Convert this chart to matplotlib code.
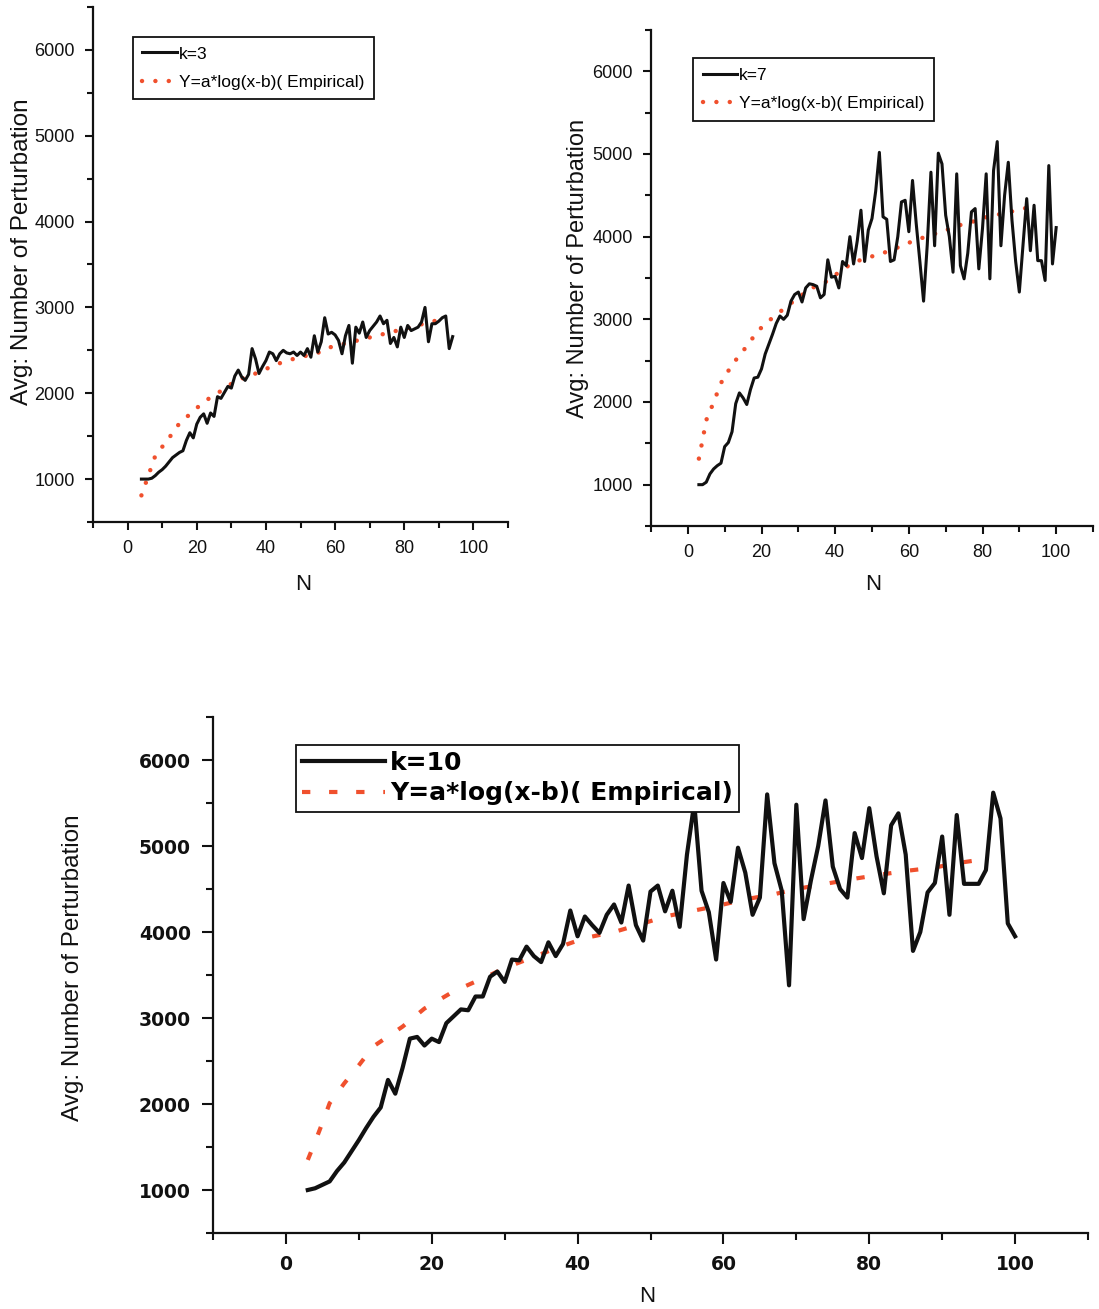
import matplotlib

matplotlib.use("Agg")
import matplotlib.pyplot as plt  # noqa: E402
from matplotlib.ticker import MultipleLocator  # noqa: E402

W, H = 1099, 1309

# ---- k = 3 -------------------------------------------------------------
k3_n = list(range(4, 95))
k3_avg = [
    1000, 1000, 1000, 1010, 1040, 1080, 1110, 1150, 1200, 1250,
    1280, 1310, 1330, 1450, 1540, 1480, 1640, 1720, 1760, 1650,
    1770, 1730, 1960, 1940, 2010, 2080, 2060, 2200, 2270, 2190,
    2150, 2220, 2520, 2400, 2230, 2310, 2380, 2480, 2460, 2380,
    2460, 2500, 2470, 2460, 2480, 2440, 2480, 2440, 2520, 2420,
    2670, 2480, 2600, 2880, 2690, 2710, 2680, 2615, 2460, 2670,
    2790, 2350, 2770, 2700, 2830, 2650, 2730, 2780, 2830, 2900,
    2810, 2850, 2580, 2650, 2540, 2770, 2650, 2790, 2730, 2750,
    2770, 2830, 3000, 2600, 2810, 2810, 2840, 2880, 2900, 2520,
    2660,
]
fit3_n = [4, 6, 8, 12, 15, 19, 22, 26, 30, 33, 37, 41, 44, 47, 51, 55,
          58, 62, 66, 70, 73, 76, 80, 84, 87, 90]
fit3_v = [810, 1040, 1270, 1480, 1650, 1790, 1900, 2000, 2110, 2170, 2230,
          2300, 2350, 2390, 2430, 2470, 2530, 2570, 2610, 2650, 2680, 2710,
          2750, 2790, 2830, 2850]

# ---- k = 7 -------------------------------------------------------------
k7_n = list(range(3, 101))
k7_avg = [
    1000, 1000, 1030, 1130, 1190, 1230, 1260, 1460, 1510, 1640,
    1980, 2110, 2050, 1970, 2150, 2290, 2300, 2400, 2580, 2700,
    2820, 2950, 3040, 3000, 3050, 3220, 3300, 3330, 3210, 3380,
    3430, 3420, 3400, 3260, 3300, 3720, 3510, 3520, 3380, 3700,
    3650, 4000, 3670, 3950, 4320, 3700, 4080, 4220, 4550, 5020,
    4240, 4210, 3700, 3720, 4000, 4420, 4440, 4060, 4680, 4160,
    3700, 3220, 3900, 4780, 3890, 5010, 4880, 4260, 4000, 3570,
    4760, 3650, 3490, 3800, 4300, 4340, 3610, 4100, 4760, 3490,
    4800, 5150, 3890, 4500, 4900, 4200, 3700, 3330, 3900, 4460,
    3830, 4380, 3710, 3710, 3470, 4860, 3670, 4110,
]
fit7_n = [3, 4, 5, 7, 9, 12, 16, 19, 23, 27, 30, 34, 38, 41, 45, 52, 55,
          59, 63, 66, 70, 73, 77, 80, 84, 88, 91, 95]
fit7_v = [1315, 1540, 1780, 1995, 2230, 2450, 2675, 2860, 3020, 3160, 3265,
          3385, 3465, 3570, 3690, 3790, 3830, 3910, 3975, 4020, 4075, 4130,
          4175, 4225, 4265, 4305, 4340, 4365]

# ---- k = 10 ------------------------------------------------------------
k10_n = list(range(3, 101))
k10_avg = [
    1000, 1020, 1060, 1100, 1220, 1320, 1450, 1580, 1720, 1850,
    1960, 2280, 2120, 2420, 2760, 2780, 2680, 2760, 2720, 2940,
    3020, 3100, 3090, 3250, 3250, 3480, 3540, 3420, 3680, 3670,
    3830, 3720, 3650, 3880, 3720, 3860, 4250, 3950, 4180, 4080,
    3990, 4200, 4320, 4110, 4540, 4080, 3900, 4470, 4540, 4240,
    4480, 4060, 4900, 5500, 4480, 4230, 3680, 4570, 4350, 4980,
    4690, 4200, 4400, 5600, 4800, 4480, 3380, 5480, 4150, 4600,
    5000, 5530, 4760, 4500, 4400, 5150, 4860, 5440, 4880, 4450,
    5240, 5380, 4900, 3780, 4000, 4460, 4570, 5110, 4200, 5360,
    4560, 4560, 4560, 4720, 5620, 5320, 4100, 3950,
]
fit10_n = [3, 4, 5, 6, 8, 10, 12, 16, 19, 23, 27, 30, 34, 37, 41, 45, 49,
           52, 56, 59, 63, 67, 70, 74, 78, 81, 85, 89, 92, 96]
fit10_v = [1350, 1560, 1780, 2010, 2240, 2450, 2670, 2900, 3110, 3310, 3460,
           3580, 3710, 3810, 3930, 4000, 4100, 4180, 4250, 4300, 4380, 4440,
           4500, 4560, 4620, 4660, 4710, 4750, 4800, 4850]

NARROW = ["Liberation Sans Narrow", "Liberation Sans", "DejaVu Sans"]
ARIAL = ["Liberation Sans", "DejaVu Sans"]
WIDE = ["DejaVu Sans"]
RED = "#f0502d"
INK = "#111111"
FIT_LABEL = "Y=a*log(x-b)( Empirical)"
YLABEL = "Avg: Number of Perturbation"


def px_rect(left, top, right, bottom):
    """Converte caixa em pixels (origem no topo) para coordenadas de figura."""
    return [left / W, 1 - bottom / H, (right - left) / W, (bottom - top) / H]


def style_axes(ax, family, size, weight, major_len, minor_len, pad):
    ax.set_xlim(-10, 110)
    ax.set_ylim(500, 6500)
    for side in ("top", "right"):
        ax.spines[side].set_visible(False)
    for side in ("left", "bottom"):
        ax.spines[side].set_linewidth(1.6)
        ax.spines[side].set_color(INK)
    ax.xaxis.set_major_locator(MultipleLocator(20))
    ax.xaxis.set_minor_locator(MultipleLocator(10))
    ax.yaxis.set_major_locator(MultipleLocator(1000))
    ax.yaxis.set_minor_locator(MultipleLocator(500))
    ax.tick_params(which="major", direction="out", length=major_len,
                   width=1.5, color=INK, pad=pad)
    ax.tick_params(which="minor", direction="out", length=minor_len,
                   width=1.5, color=INK)
    for lab in ax.get_xticklabels() + ax.get_yticklabels():
        lab.set_family(family)
        lab.set_fontsize(size)
        lab.set_fontweight(weight)
        lab.set_color(INK)


def small_legend(ax, anchor):
    leg = ax.legend(loc="upper left", bbox_to_anchor=anchor,
                    borderaxespad=0, prop={"family": NARROW, "size": 12.5},
                    handlelength=2.0, handletextpad=0.1, labelspacing=0.75,
                    borderpad=0.55, fancybox=False, framealpha=1,
                    edgecolor=INK)
    leg.get_frame().set_linewidth(1.3)
    return leg


fig = plt.figure(figsize=(W / 100, H / 100), dpi=100)

# ---- painel k=3 ----
ax1 = fig.add_axes(px_rect(93, 7, 508, 522))
ax1.plot(k3_n, k3_avg, color=INK, lw=2.2, label="k=3", zorder=3)
ax1.plot(fit3_n, fit3_v, color=RED, lw=3.2, ls=(0, (0.01, 3.0)),
         dash_capstyle="round", label=FIT_LABEL, zorder=2)
style_axes(ax1, NARROW, 13, "normal", 6, 4, 7)
small_legend(ax1, (0.096, 0.942))

# ---- painel k=7 ----
ax2 = fig.add_axes(px_rect(651, 30, 1093, 526))
ax2.plot(k7_n, k7_avg, color=INK, lw=2.2, label="k=7", zorder=3)
ax2.plot(fit7_n, fit7_v, color=RED, lw=3.2, ls=(0, (0.01, 3.0)),
         dash_capstyle="round", label=FIT_LABEL, zorder=2)
style_axes(ax2, NARROW, 13, "normal", 6, 4, 7)
small_legend(ax2, (0.095, 0.943))

# ---- painel k=10 ----
ax3 = fig.add_axes(px_rect(213, 717, 1088, 1233))
ax3.plot(k10_n, k10_avg, color=INK, lw=3.0, label="k=10", zorder=3)
ax3.plot(fit10_n, fit10_v, color=RED, lw=3.0, ls=(0, (2.0, 4.5)),
         label=FIT_LABEL, zorder=2)
style_axes(ax3, WIDE, 13.5, "bold", 8, 5, 8)
leg = ax3.legend(loc="upper left", bbox_to_anchor=(0.095, 0.946),
                 borderaxespad=0, prop={"family": WIDE, "size": 18,
                                        "weight": "bold"},
                 handlelength=3.3, handletextpad=0.2, labelspacing=0.25,
                 borderpad=0.25, fancybox=False, framealpha=1,
                 edgecolor=INK)
leg.get_frame().set_linewidth(1.3)

# ---- rótulos dos eixos ----
for x, y, size in ((22, 252, 17.5), (578, 268, 17), (73, 968, 17.5)):
    fig.text(x / W, 1 - y / H, YLABEL, rotation=90, ha="center",
             va="center", family=ARIAL, fontsize=size, color=INK)
for x, y in ((303, 585), (873, 585), (647, 1296)):
    fig.text(x / W, 1 - y / H, "N", ha="center", va="center",
             family=ARIAL, fontsize=16, color=INK)

fig.savefig("out.png", dpi=100, facecolor="white")
plt.close(fig)
